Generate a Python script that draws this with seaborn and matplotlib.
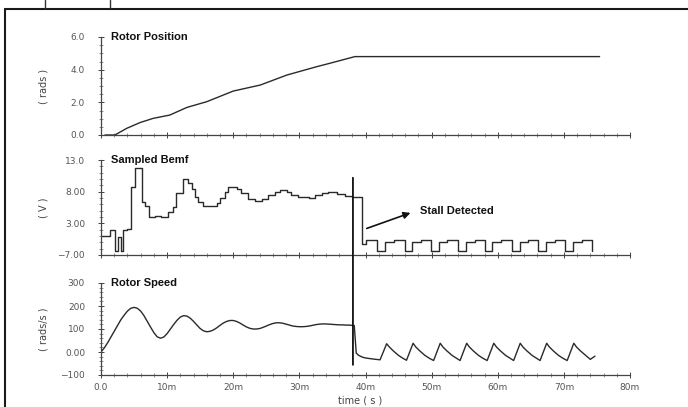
import matplotlib
matplotlib.use("Agg")
import matplotlib.pyplot as plt
from matplotlib.lines import Line2D
from matplotlib.patches import ConnectionPatch
from matplotlib.ticker import MultipleLocator
import seaborn as sns
import pandas as pd

# ---------------- data (time in ms) ----------------
pos_t = [0.6, 2.1, 3.9, 5.9, 7.9, 10.4, 13.0, 16.0, 20.0, 24.1, 28.1, 32.6, 34.6, 38.4, 75.4]
pos_v = [0.0, 0.0, 0.41, 0.76, 1.02, 1.22, 1.69, 2.04, 2.69, 3.06, 3.67, 4.18, 4.39, 4.8, 4.8]

bemf_t = [0.0, 1.3, 2.1, 2.5, 3.0, 3.4, 4.0, 4.5, 5.2, 6.2, 6.6, 7.3, 8.1, 9.0, 10.2,
          10.9, 11.4, 12.4, 13.2, 13.7, 14.2, 14.7, 15.4, 17.5, 18.0, 18.7, 19.2, 20.5,
          21.2, 22.3, 23.3, 24.3, 25.3, 26.3, 27.1, 28.1, 28.8, 29.8, 31.4, 32.4, 33.4,
          34.4, 35.7, 36.9, 37.9, 39.5, 40.1,
          41.8, 43.0, 44.3, 45.9, 47.1, 48.4, 49.9, 51.1, 52.4, 54.0, 55.2, 56.5,
          58.0, 59.2, 60.5, 62.1, 63.3, 64.6, 66.1, 67.3, 68.6, 70.2, 71.4, 72.7, 74.3]
bemf_v = [1.0, 1.9, -1.3, 0.8, -1.3, 1.9, 2.1, 8.8, 11.7, 6.3, 5.8, 4.0, 4.2, 4.0, 4.8,
          5.6, 7.8, 10.0, 9.3, 8.4, 7.2, 6.4, 5.7, 6.2, 7.0, 8.0, 8.8, 8.4,
          7.8, 6.8, 6.5, 6.8, 7.4, 8.0, 8.2, 8.0, 7.5, 7.2, 7.0, 7.4, 7.8,
          7.9, 7.7, 7.3, 7.2, -0.2, 0.3,
          -1.4, 0.0, 0.4, -1.4, 0.0, 0.4, -1.4, 0.0, 0.4, -1.4, 0.0, 0.4,
          -1.4, 0.0, 0.4, -1.4, 0.0, 0.4, -1.4, 0.0, 0.4, -1.4, 0.0, 0.4, -1.4]

spd_t = [0, 0.5, 1, 1.5, 2, 2.5, 3, 3.5, 4, 4.5, 5, 5.5, 6, 6.5, 7, 7.5, 8, 8.5, 9, 9.5,
         10, 10.5, 11, 11.5, 12, 12.5, 13, 13.5, 14, 14.5, 15, 15.5, 16, 16.5, 17, 17.5,
         18, 18.5, 19, 19.5, 20, 20.5, 21, 21.5, 22, 22.5, 23, 23.5, 24, 24.5, 25, 25.5,
         26, 26.5, 27, 27.5, 28, 28.5, 29, 29.5, 30, 30.5, 31, 31.5, 32, 32.5, 33, 33.5,
         34, 34.5, 35, 35.5, 36, 36.5, 37, 37.5, 38, 38.3, 38.6, 39, 39.5, 40, 41, 42.2,
         43.2, 43.6, 44.2, 45.0, 45.7, 46.2,
         47.2, 47.6, 48.2, 49.0, 49.7, 50.3,
         51.3, 51.7, 52.3, 53.1, 53.8, 54.3,
         55.3, 55.7, 56.3, 57.1, 57.8, 58.4,
         59.4, 59.8, 60.4, 61.2, 61.9, 62.4,
         63.4, 63.8, 64.4, 65.2, 65.9, 66.4,
         67.4, 67.8, 68.4, 69.2, 69.9, 70.5,
         71.5, 71.9, 72.5, 73.3, 74.0, 74.7]
spd_v = [0, 18, 40, 65, 90, 115, 140, 160, 178, 190, 194, 190, 178, 158, 133, 108, 84, 66, 60, 65,
         80, 100, 120, 138, 152, 158, 156, 147, 133, 117, 102, 92, 88, 90, 96, 105,
         116, 126, 133, 137, 137, 133, 126, 117, 109, 103, 100, 100, 102, 107, 113, 119,
         124, 127, 127, 125, 121, 117, 113, 111, 110, 110, 111, 113, 116, 119, 121, 122,
         122, 121, 120, 119, 118, 118, 117, 117, 116, 115, -5, -15, -22, -26, -30, -34,
         36, 22, 5, -15, -28, -36,
         38, 22, 5, -15, -28, -37,
         38, 22, 5, -15, -28, -37,
         38, 22, 5, -15, -28, -37,
         38, 22, 5, -15, -28, -37,
         38, 22, 5, -15, -28, -37,
         38, 22, 5, -15, -28, -37,
         38, 22, 5, -15, -32, -18]

stall_t = 38.1

pos_ticks = [0, 2, 4, 6]
pos_labels = ["0.0", "2.0", "4.0", "6.0"]
bemf_ticks = [-2, 3, 8, 13]
bemf_labels = ["\u22127.00", "3.00", "8.00", "13.0"]
spd_ticks = [-100, 0, 100, 200, 300]
spd_labels = ["\u2212100", "0.00", "100", "200", "300"]
x_ticks = [0, 10, 20, 30, 40, 50, 60, 70, 80]
x_labels = ["0.0", "10m", "20m", "30m", "40m", "50m", "60m", "70m", "80m"]

# ---------------- figure ----------------
sns.set_theme(style="white")
plt.rcParams['font.family'] = ['DejaVu Sans']

W, H = 688, 407
fig = plt.figure(figsize=(W / 100, H / 100), dpi=100)
fig.patch.set_facecolor("white")

left = 101 / W
width = (630 - 101) / W

def axes_box(top_px, bot_px):
    return [left, 1 - bot_px / H, width, (bot_px - top_px) / H]

ax1 = fig.add_axes(axes_box(37, 135))
ax2 = fig.add_axes(axes_box(160, 255))
ax3 = fig.add_axes(axes_box(283, 375))

line_col = "#2a2a2a"
tick_col = "#555555"

df_pos = pd.DataFrame({"t": pos_t, "v": pos_v})
df_bemf = pd.DataFrame({"t": bemf_t, "v": bemf_v})
df_spd = pd.DataFrame({"t": spd_t, "v": spd_v})

sns.lineplot(data=df_pos, x="t", y="v", ax=ax1, color=line_col, lw=1.0, estimator=None)
sns.lineplot(data=df_bemf, x="t", y="v", ax=ax2, color=line_col, lw=1.0, estimator=None,
             drawstyle="steps-post")
sns.lineplot(data=df_spd, x="t", y="v", ax=ax3, color=line_col, lw=1.0, estimator=None)

titles = ["Rotor Position", "Sampled Bemf", "Rotor Speed"]
ylabels = ["( rads )", "( V )", "( rads/s )"]
lims = [(0, 6), (-2, 13), (-100, 300)]
ticks = [pos_ticks, bemf_ticks, spd_ticks]
tlabels = [pos_labels, bemf_labels, spd_labels]
minors = [0.5, 1, 20]

for ax, ttl, yl, lim, tk, tl, mn in zip([ax1, ax2, ax3], titles, ylabels, lims,
                                        ticks, tlabels, minors):
    ax.set_facecolor("white")
    ax.set_xlim(0, 80)
    ax.set_ylim(*lim)
    for s in ["top", "right"]:
        ax.spines[s].set_visible(False)
    for s in ["left", "bottom"]:
        ax.spines[s].set_color("#444444")
        ax.spines[s].set_linewidth(0.9)
    ax.set_yticks(tk)
    ax.set_yticklabels(tl)
    ax.yaxis.set_minor_locator(MultipleLocator(mn))
    ax.set_xticks(x_ticks)
    ax.xaxis.set_minor_locator(MultipleLocator(2))
    ax.tick_params(axis="both", which="major", direction="inout", length=5, width=0.7,
                   color="#444444", labelsize=6.5, labelcolor=tick_col, left=True, bottom=True)
    ax.tick_params(axis="both", which="minor", direction="inout", length=3, width=0.5,
                   color="#666666", left=True, bottom=True)
    ax.tick_params(axis="y", which="major", pad=9)
    ax.set_ylabel(yl, fontsize=7, color="#444444")
    ax.yaxis.set_label_coords(-0.1, 0.5)
    ax.set_xlabel("")
    ax.text(0.018, 1.0, ttl, transform=ax.transAxes, fontsize=8, fontweight="bold",
            family="Liberation Sans", color="#111111", va="center", ha="left")
    ax.grid(False)

ax1.set_xticklabels([])
ax2.set_xticklabels([])
ax3.set_xticklabels(x_labels)
ax3.tick_params(axis="x", which="major", pad=3)
ax3.set_xlabel("time ( s )", fontsize=7, color="#444444")
ax3.xaxis.set_label_coords(0.49, -0.225)

# stall marker line crossing bemf and speed panels
con = ConnectionPatch(xyA=(stall_t, 10.2), coordsA=ax2.transData,
                      xyB=(stall_t, -56), coordsB=ax3.transData,
                      color="#111111", lw=1.3)
fig.add_artist(con)

# annotation
arrow_tail = (39.8, 2.05)
arrow_head = (47.2, 4.8)
ax2.annotate("", xy=arrow_head, xytext=arrow_tail,
             arrowprops=dict(arrowstyle="-|>", color="#111111", lw=1.2,
                             mutation_scale=10))
ax2.text(48.3, 5.0, "Stall Detected", fontsize=8, fontweight="bold",
         family="Liberation Sans", color="#111111", va="center", ha="left")

# outer frame
fig.add_artist(Line2D([5 / W, 1.0], [1 - 9 / H, 1 - 9 / H], transform=fig.transFigure,
                      color="#1a1a1a", lw=1.5))
fig.add_artist(Line2D([5 / W, 5 / W], [0.0, 1 - 9 / H], transform=fig.transFigure,
                      color="#1a1a1a", lw=1.5))
for xp in [45, 110]:
    fig.add_artist(Line2D([xp / W, xp / W], [1 - 8 / H, 1.0], transform=fig.transFigure,
                          color="#333333", lw=1.0))

fig.savefig("out.png", dpi=100, facecolor="white")
